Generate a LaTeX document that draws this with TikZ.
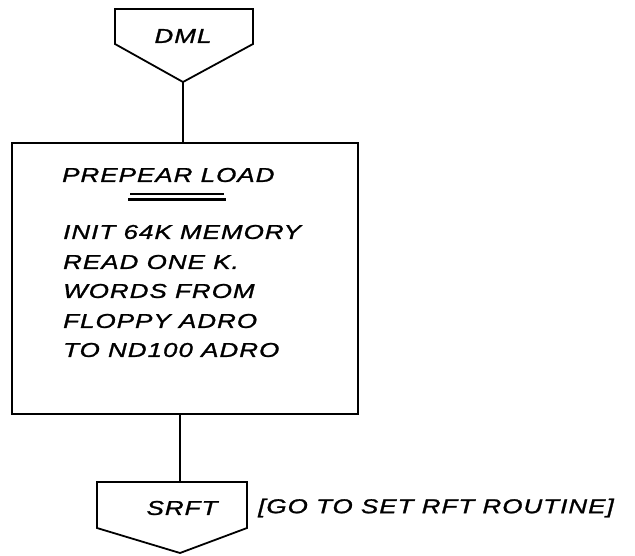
\documentclass[tikz,border=0pt]{standalone}
\usepackage{fontspec}
\newfontfamily\lett{Liberation Sans Italic}[FakeStretch=1.3,LetterSpace=5,FakeBold=1.2]
\begin{document}
\begin{tikzpicture}[x=1pt,y=-1pt,
  ln/.style={line width=1.8pt, line join=miter},
  txt/.style={font=\lett\fontsize{20}{24}\selectfont, inner sep=0pt, anchor=west},
  ctxt/.style={font=\lett\fontsize{20}{24}\selectfont, inner sep=0pt}]
\useasboundingbox (0,0) rectangle (635,555);
% top off-page connector
\coordinate (dmltip) at (183,82);
\draw[ln] (115,9) -- (253,9) -- (253,44) -- (dmltip) -- (115,44) -- cycle;
\node[ctxt] (dml) at (183,36) {DML};
% process box
\node[draw, ln, minimum width=346pt, minimum height=271pt, inner sep=0pt] (box) at (185,278.5) {};
\node[txt] (t0) at (62,175) {PREPEAR LOAD};
\draw[line width=1.1pt] (130,194) -- (224,194);
\draw[line width=2.4pt] (128,199.5) -- (226,199.5);
\node[txt] (t1) at (63,232) {INIT 64K MEMORY};
\node[txt] (t2) at (63,262) {READ ONE K.};
\node[txt] (t3) at (63,291) {WORDS FROM};
\node[txt] (t4) at (63,321) {FLOPPY ADRO};
\node[txt] (t5) at (63,350) {TO ND100 ADRO};
% bottom off-page connector
\coordinate (srfttop) at (180,482);
\coordinate (srfttip) at (180,553);
\draw[ln] (97,482) -- (247,482) -- (247,528) -- (srfttip) -- (97,528) -- cycle;
\node[ctxt] (srft) at (182,508) {SRFT};
\node[txt] (note) at (258,508) {[GO TO SET RFT ROUTINE]};
% connectors
\draw[ln] (dmltip) -- (dmltip |- box.north);
\draw[ln] (srfttop |- box.south) -- (srfttop);
\end{tikzpicture}
\end{document}
